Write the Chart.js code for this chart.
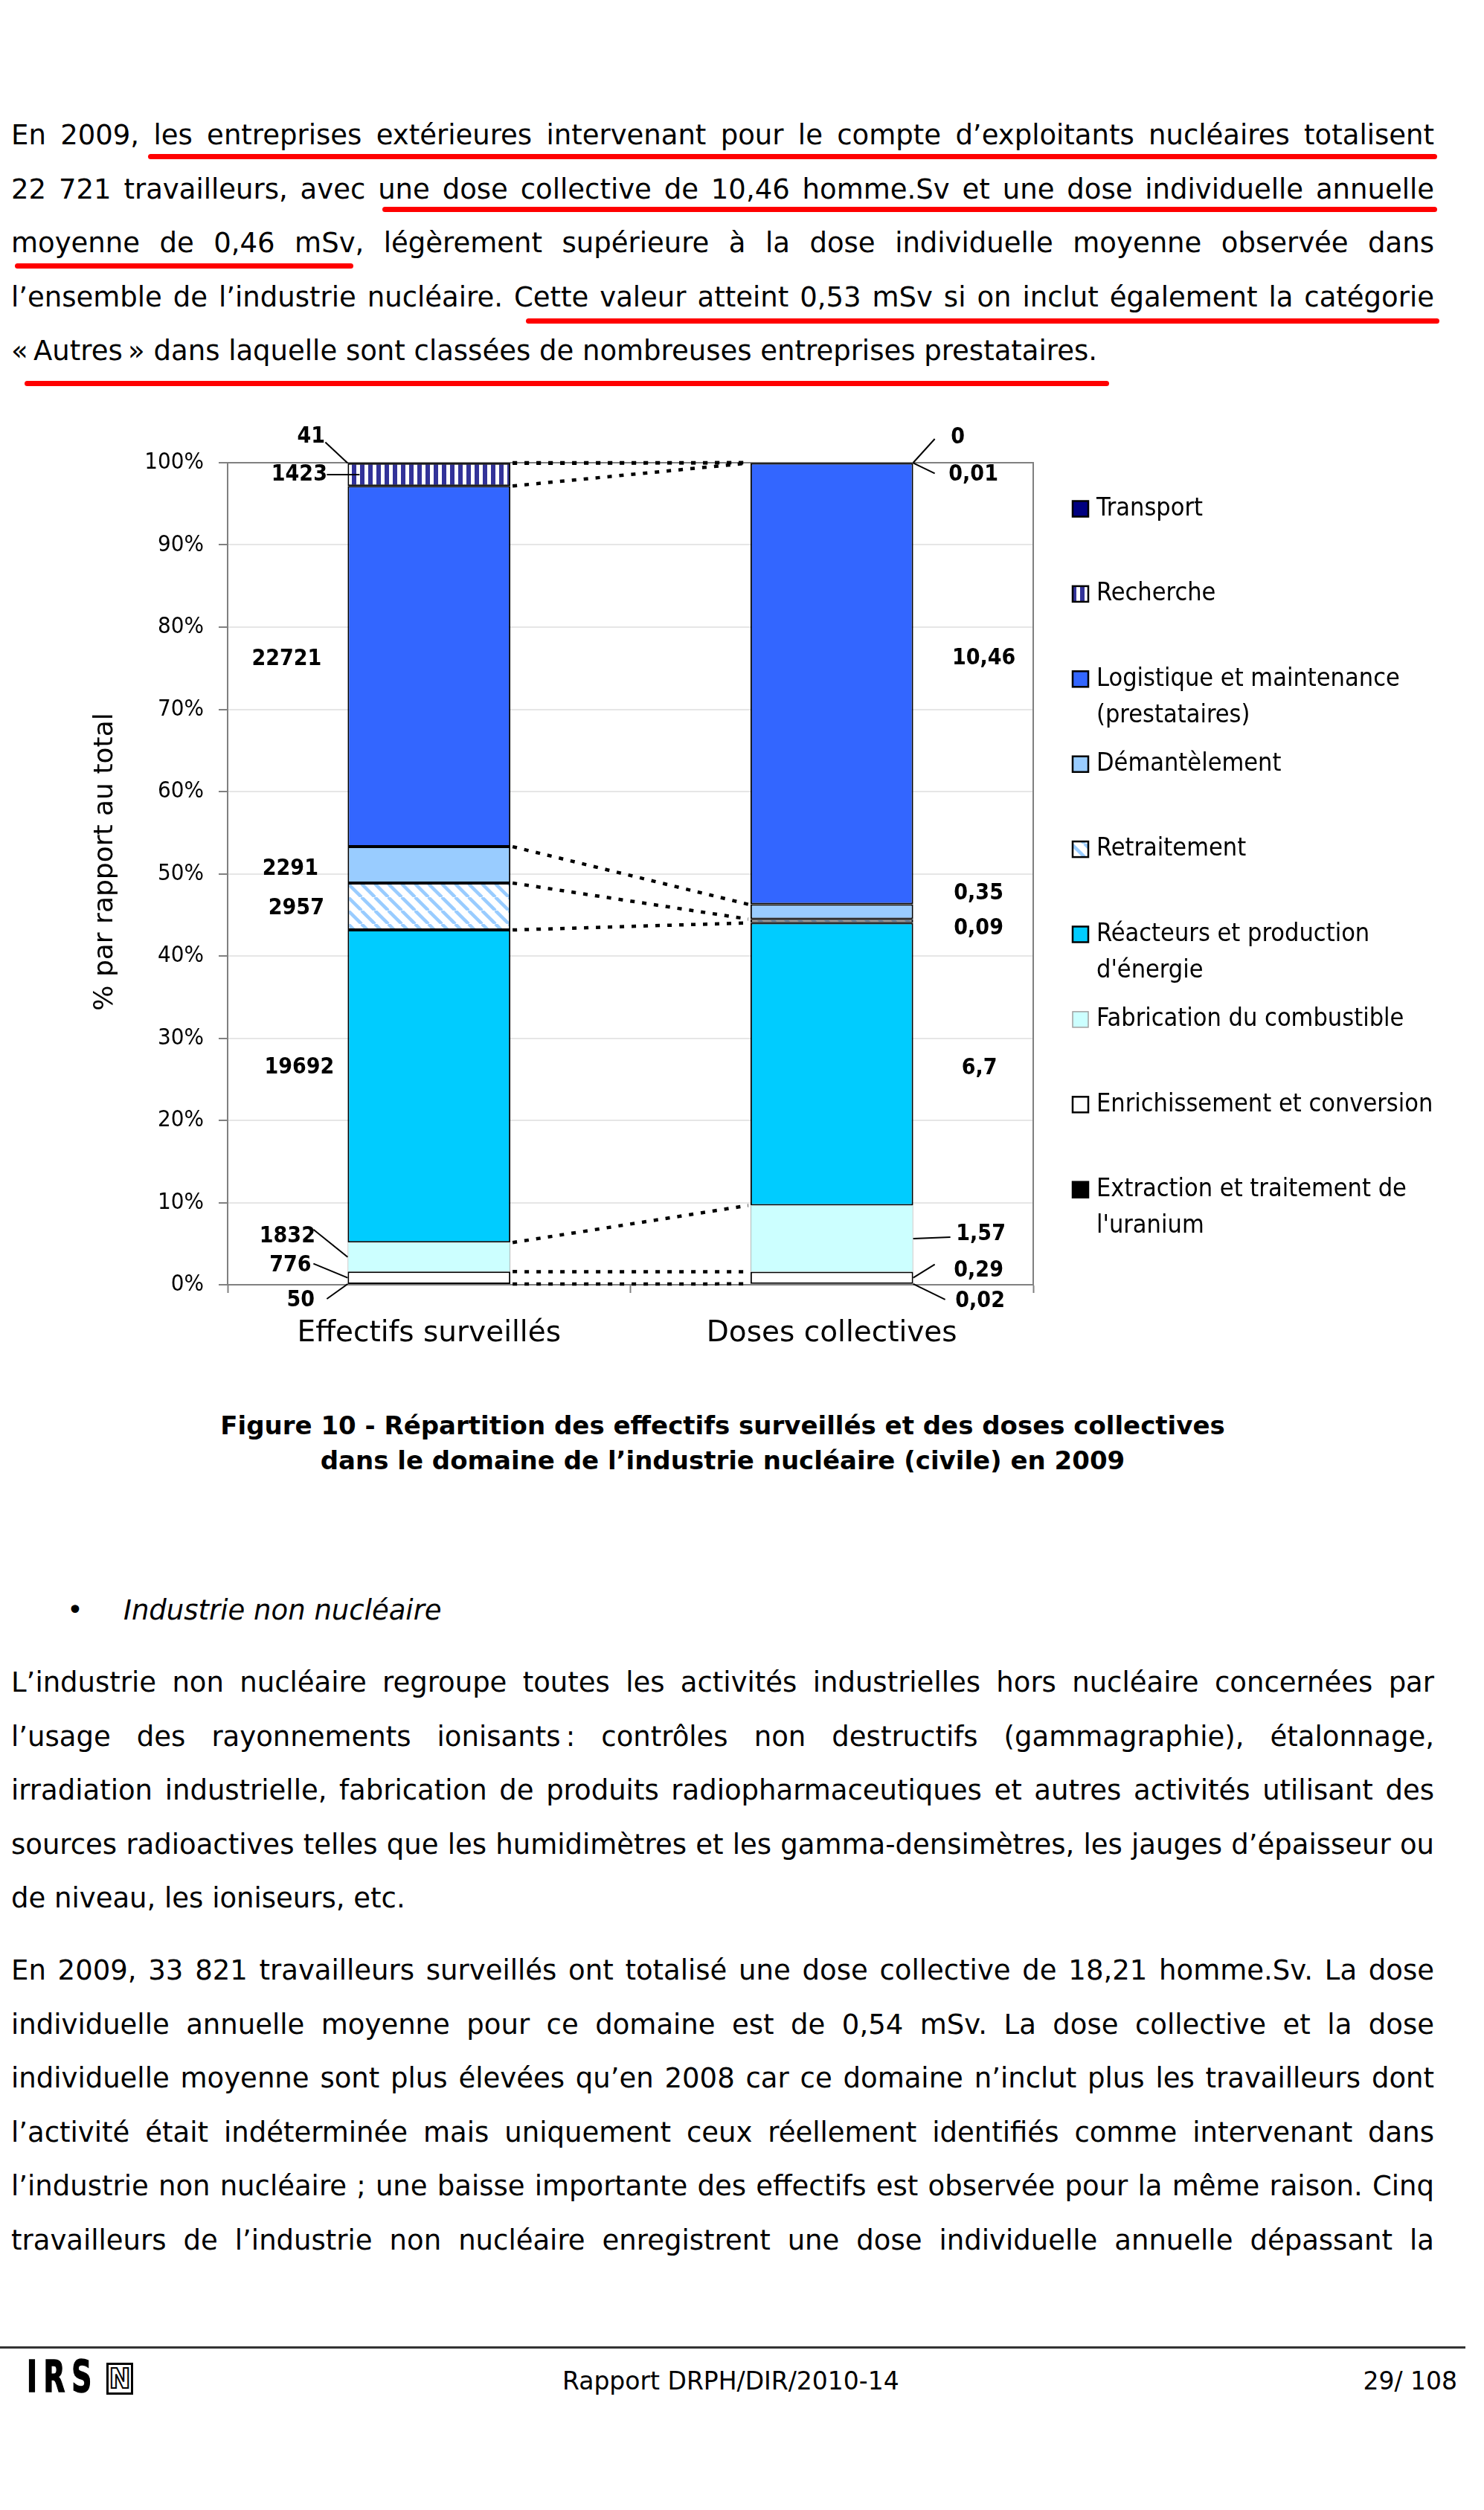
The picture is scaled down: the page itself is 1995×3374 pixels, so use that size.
<!DOCTYPE html>
<html lang="fr">
<head>
<meta charset="utf-8">
<title>Figure 10 - Répartition des effectifs surveillés et des doses collectives</title>
<script src="https://cdn.jsdelivr.net/npm/chart.js@4.4.0/dist/chart.umd.min.js"></script>
<style>
  html, body { margin: 0; padding: 0; background: #fff; }
  body {
    width: 1995px; height: 3374px; position: relative; overflow: hidden; color: #000;
    font-family: 'DejaVu Sans', Verdana, sans-serif; font-size: 37px; line-height: 72.5px;
  }
  .para { position: absolute; left: 15px; width: 1913px; }
  .para div { white-space: nowrap; height: 72.5px; }
  .surligne { position: absolute; height: 7px; background: #ff0000; border-radius: 4px; }
  #chartBox { position: absolute; left: 0; top: 540px; width: 1995px; height: 1300px; }
  .legende {
    position: absolute; left: 15px; width: 1913px; top: 1893px; text-align: center;
    font-weight: bold; font-size: 34px; line-height: 46.5px;
  }
  .puce { position: absolute; top: 2129px; left: 90px; }
  .titre-puce { position: absolute; top: 2129px; left: 166px; font-style: italic; }
  .filet { position: absolute; left: 0; top: 3154px; width: 1970px; height: 3px; background: #333; }
  .pied { position: absolute; top: 3181px; font-size: 33px; line-height: 40px; white-space: nowrap; }
  .logo {
    position: absolute; left: 36px; top: 3166px; font-family: 'DejaVu Sans Condensed', 'DejaVu Sans', sans-serif;
    font-weight: bold; font-size: 58px; line-height: 58px; letter-spacing: 12px;
    transform: scaleX(0.72); transform-origin: left top; -webkit-text-stroke: 1.5px #000;
  }
  .logo-n {
    position: absolute; left: 143px; top: 3176px; width: 30px; height: 37px; border: 3px solid #000;
    font-family: 'DejaVu Sans Condensed', 'DejaVu Sans', sans-serif; font-weight: bold;
    font-size: 38px; line-height: 37px; text-align: center; color: #fff; -webkit-text-stroke: 2px #000;
  }
</style>
</head>
<body>

<div class="para" style="top:146px">
  <div class="j"><span>En 2009, les entreprises extérieures intervenant pour le compte d’exploitants nucléaires totalisent</span></div>
  <div class="j"><span>22 721 travailleurs, avec une dose collective de 10,46 homme.Sv et une dose individuelle annuelle</span></div>
  <div class="j"><span>moyenne de 0,46 mSv, légèrement supérieure à la dose individuelle moyenne observée dans</span></div>
  <div class="j"><span>l’ensemble de l’industrie nucléaire. Cette valeur atteint 0,53 mSv si on inclut également la catégorie</span></div>
  <div><span>«&#8239;Autres&#8239;» dans laquelle sont classées de nombreuses entreprises prestataires.</span></div>
</div>

<div class="surligne" style="left:199px; width:1733px; top:207px"></div>
<div class="surligne" style="left:514px; width:1418px; top:278px"></div>
<div class="surligne" style="left:20px; width:455px; top:354px"></div>
<div class="surligne" style="left:707px; width:1228px; top:428px"></div>
<div class="surligne" style="left:33px; width:1458px; top:512px"></div>

<div id="chartBox"><canvas id="repartitionChart"></canvas></div>

<div class="legende">Figure 10 - Répartition des effectifs surveillés et des doses collectives<br>dans le domaine de l’industrie nucléaire (civile) en 2009</div>

<div class="puce">•</div>
<div class="titre-puce">Industrie non nucléaire</div>

<div class="para" style="top:2226px">
  <div class="j"><span>L’industrie non nucléaire regroupe toutes les activités industrielles hors nucléaire concernées par</span></div>
  <div class="j"><span>l’usage des rayonnements ionisants&#8239;: contrôles non destructifs (gammagraphie), étalonnage,</span></div>
  <div class="j"><span>irradiation industrielle, fabrication de produits radiopharmaceutiques et autres activités utilisant des</span></div>
  <div class="j"><span>sources radioactives telles que les humidimètres et les gamma-densimètres, les jauges d’épaisseur ou</span></div>
  <div><span>de niveau, les ioniseurs, etc.</span></div>
</div>

<div class="para" style="top:2613px">
  <div class="j"><span>En 2009, 33 821 travailleurs surveillés ont totalisé une dose collective de 18,21 homme.Sv. La dose</span></div>
  <div class="j"><span>individuelle annuelle moyenne pour ce domaine est de 0,54 mSv. La dose collective et la dose</span></div>
  <div class="j"><span>individuelle moyenne sont plus élevées qu’en 2008 car ce domaine n’inclut plus les travailleurs dont</span></div>
  <div class="j"><span>l’activité était indéterminée mais uniquement ceux réellement identifiés comme intervenant dans</span></div>
  <div class="j"><span>l’industrie non nucléaire ; une baisse importante des effectifs est observée pour la même raison. Cinq</span></div>
  <div class="j"><span>travailleurs de l’industrie non nucléaire enregistrent une dose individuelle annuelle dépassant la</span></div>
</div>

<div class="filet"></div>
<div class="logo">IRS</div>
<div class="logo-n">N</div>
<div class="pied" style="left:756px">Rapport DRPH/DIR/2010-14</div>
<div class="pied" style="right:36px">29/ 108</div>

<script>
// Catégories (les deux barres)
const categories = ['Effectifs surveillés', 'Doses collectives'];

// Séries, de bas en haut de la pile
const seriesNames = [
    "Extraction et traitement de l'uranium",
    'Enrichissement et conversion',
    'Fabrication du combustible',
    "Réacteurs et production d'énergie",
    'Retraitement',
    'Démantèlement',
    'Logistique et maintenance (prestataires)',
    'Recherche',
    'Transport'
];

// Valeurs
const effectifs = [50, 776, 1832, 19692, 2957, 2291, 22721, 1423, 41];
const dosesCollectives = [0.02, 0.29, 1.57, 6.7, 0.09, 0.35, 10.46, 0.01, 0];

// Graduations de l'axe vertical
const yTickLabels = ['0%', '10%', '20%', '30%', '40%', '50%', '60%', '70%', '80%', '90%', '100%'];
const yTitle = '% par rapport au total';

// Justification des lignes de texte (coupures imposées comme dans le document)
document.querySelectorAll('.j').forEach(function(line) {
    const span = line.firstElementChild;
    const w = span.getBoundingClientRect().width;
    const n = (span.textContent.match(/[ \u00a0]/g) || []).length;
    if (n) span.style.wordSpacing = ((line.clientWidth - w) / n) + 'px';
});

// Motifs de remplissage
function verticalStripes(color) {
    const c = document.createElement('canvas');
    c.width = 11; c.height = 11;
    const g = c.getContext('2d');
    g.fillStyle = '#ffffff'; g.fillRect(0, 0, 11, 11);
    g.fillStyle = color; g.fillRect(0, 0, 6, 11);
    return g.createPattern(c, 'repeat');
}
function diagonalStripes(color) {
    const c = document.createElement('canvas');
    c.width = 18; c.height = 18;
    const g = c.getContext('2d');
    g.fillStyle = '#ffffff'; g.fillRect(0, 0, 18, 18);
    g.strokeStyle = color; g.lineWidth = 4.5;
    for (let k = -1; k <= 1; k++) {
        g.beginPath();
        g.moveTo(k * 18, 0);
        g.lineTo(k * 18 + 18, 18);
        g.stroke();
    }
    return g.createPattern(c, 'repeat');
}

const fills = [
    '#000000', '#ffffff', '#ccffff', '#00ccff', diagonalStripes('#99ccff'),
    '#99ccff', '#3366ff', verticalStripes('#333399'), '#000080'
];
const borders = ['#000', '#000', '#a0a0a0', '#000', '#000', '#000', '#000', '#000', '#000'];

// Place des étiquettes : décalage en px depuis le bord de la barre et le milieu du segment
const labelLayout = [
    [{x: -63, y: 22, lead: [-28, 20]}, {x: 90, y: 23, lead: [43, 21]}],
    [{x: -77, y: -16, lead: [-46, -19]}, {x: 88, y: -9, lead: [29, -18]}],
    [{x: -81, y: -28, lead: [-46, -37]}, {x: 91, y: -6, lead: [50, -2]}],
    [{x: -65, y: -25}, {x: 89, y: 6}],
    [{x: -69, y: 3}, {x: 88, y: 10}],
    [{x: -77, y: 6}, {x: 88, y: -24}],
    [{x: -82, y: -9}, {x: 95, y: -34}],
    [{x: -65, y: 0, lead: [-28, 0], inset: 16}, {x: 81, y: 16, lead: [29, 14]}],
    [{x: -49, y: -35, lead: [-30, -28]}, {x: 60, y: -34, lead: [29, -32]}]
];

const rawValues = [effectifs, dosesCollectives];
const sum = arr => arr.reduce((a, b) => a + b, 0);
const totals = rawValues.map(sum);

function formatValue(v, j) {
    return j === 0 ? String(v) : String(v).replace('.', ',');
}

// Cadre du graphique (haut et droite) et titre de l'axe vertical
const framePlugin = {
    id: 'cadre',
    beforeDatasetsDraw(chart) {
        const {ctx, chartArea: a} = chart;
        ctx.save();
        ctx.strokeStyle = '#808080';
        ctx.lineWidth = 2;
        ctx.beginPath();
        ctx.moveTo(a.left, a.top);
        ctx.lineTo(a.right, a.top);
        ctx.lineTo(a.right, a.bottom);
        ctx.stroke();
        // titre de l'axe, un peu au-dessus du centre comme dans l'original
        ctx.translate(142, (a.top + a.bottom) / 2 - 16);
        ctx.rotate(-Math.PI / 2);
        ctx.font = "36px 'DejaVu Sans', sans-serif";
        ctx.fillStyle = '#000';
        ctx.textAlign = 'center';
        ctx.textBaseline = 'middle';
        ctx.fillText(yTitle, 0, 0);
        ctx.restore();
    }
};

// Lignes pointillées reliant les deux barres
const seriesLinesPlugin = {
    id: 'lignesSeries',
    afterDatasetsDraw(chart) {
        const ctx = chart.ctx;
        ctx.save();
        ctx.strokeStyle = '#000';
        ctx.lineWidth = 4.5;
        ctx.setLineDash([6, 10]);
        chart.data.datasets.forEach(function(ds, i) {
            const bars = chart.getDatasetMeta(i).data;
            const a = bars[0], b = bars[1];
            ctx.beginPath();
            ctx.moveTo(a.x + a.width / 2 + 3, a.y);
            ctx.lineTo(b.x - b.width / 2 - 3, b.y);
            ctx.stroke();
        });
        ctx.restore();
    }
};

// Étiquettes de valeurs avec traits de rappel
const valueLabelsPlugin = {
    id: 'etiquettes',
    afterDatasetsDraw(chart) {
        const ctx = chart.ctx;
        ctx.save();
        ctx.font = "bold 30px 'DejaVu Sans Condensed', 'DejaVu Sans', sans-serif";
        ctx.fillStyle = '#000';
        ctx.strokeStyle = '#000';
        ctx.lineWidth = 2;
        ctx.textAlign = 'center';
        ctx.textBaseline = 'middle';
        chart.data.datasets.forEach(function(ds, i) {
            chart.getDatasetMeta(i).data.forEach(function(bar, j) {
                const side = j === 0 ? -1 : 1;
                const edge = bar.x + side * bar.width / 2;
                const midY = (bar.y + bar.base) / 2;
                const lay = labelLayout[i][j];
                if (lay.lead) {
                    ctx.beginPath();
                    ctx.moveTo(edge + lay.lead[0], midY + lay.lead[1]);
                    ctx.lineTo(edge - side * (lay.inset || 0), midY);
                    ctx.stroke();
                }
                ctx.fillText(formatValue(rawValues[j][i], j), edge + lay.x, midY + lay.y);
            });
        });
        ctx.restore();
    }
};

// Légende à droite, avec retour à la ligne
const legendPlugin = {
    id: 'legendeDroite',
    afterDraw(chart) {
        const ctx = chart.ctx;
        const o = {boxX: 1442, box: 21, textX: 1474, top: 144, step: 114.4, lineHeight: 49, maxWidth: 470};
        ctx.save();
        ctx.font = "34px 'DejaVu Sans Condensed', 'DejaVu Sans', sans-serif";
        ctx.textBaseline = 'middle';
        const datasets = chart.data.datasets;
        for (let k = 0; k < datasets.length; k++) {
            const ds = datasets[datasets.length - 1 - k];
            const y = o.top + k * o.step;
            ctx.fillStyle = ds.backgroundColor;
            ctx.fillRect(o.boxX, y - o.box / 2, o.box, o.box);
            ctx.strokeStyle = ds.borderColor;
            ctx.lineWidth = ds.borderColor === '#000' ? 2.5 : 1.5;
            ctx.strokeRect(o.boxX, y - o.box / 2, o.box, o.box);
            // découpe du texte
            const words = ds.label.split(' ');
            const lines = [];
            let cur = '';
            words.forEach(function(w) {
                const test = cur ? cur + ' ' + w : w;
                if (ctx.measureText(test).width > o.maxWidth && cur) {
                    lines.push(cur);
                    cur = w;
                } else {
                    cur = test;
                }
            });
            lines.push(cur);
            ctx.fillStyle = '#000';
            lines.forEach(function(t, n) {
                ctx.fillText(t, o.textX, y + n * o.lineHeight);
            });
        }
        ctx.restore();
    }
};

Chart.defaults.font.family = "'DejaVu Sans Condensed', 'DejaVu Sans', sans-serif";
Chart.defaults.color = '#000';

const datasets = seriesNames.map(function(name, i) {
    return {
        label: name,
        data: rawValues.map((vals, j) => vals[i] / totals[j] * 100),
        backgroundColor: fills[i],
        borderColor: borders[i],
        borderWidth: i === 2 ? {left: 1, right: 1, top: 0, bottom: 0} : 2,
        borderSkipped: false,
        barPercentage: 0.404,
        categoryPercentage: 1
    };
});

const ctx = document.getElementById('repartitionChart').getContext('2d');
const repartitionChart = new Chart(ctx, {
    type: 'bar',
    data: {
        labels: categories,
        datasets: datasets
    },
    options: {
        responsive: true,
        maintainAspectRatio: false,
        animation: false,
        events: [],
        layout: {
            padding: {top: 82, right: 606, bottom: 0, left: 0}
        },
        plugins: {
            legend: {display: false},
            tooltip: {enabled: false}
        },
        scales: {
            x: {
                stacked: true,
                offset: true,
                grid: {
                    offset: true,
                    drawOnChartArea: false,
                    tickLength: 11,
                    tickColor: '#808080',
                    tickWidth: 2
                },
                border: {color: '#808080', width: 2},
                ticks: {
                    font: {family: "'DejaVu Sans', sans-serif", size: 39},
                    color: '#000',
                    padding: 31,
                    maxRotation: 0,
                    autoSkip: false
                },
                afterFit: function(scale) { scale.height = 113; }
            },
            y: {
                stacked: true,
                min: 0,
                max: 100,
                ticks: {
                    stepSize: 10,
                    padding: 20,
                    font: {size: 31},
                    color: '#000',
                    callback: function(value, index) { return yTickLabels[index]; }
                },
                grid: {
                    color: '#e6e6e6',
                    lineWidth: 2,
                    tickLength: 12,
                    tickColor: '#808080',
                    tickWidth: 2
                },
                border: {color: '#808080', width: 2},
                afterFit: function(scale) { scale.width = 306; }
            }
        }
    },
    plugins: [framePlugin, seriesLinesPlugin, valueLabelsPlugin, legendPlugin]
});
</script>
</body>
</html>
